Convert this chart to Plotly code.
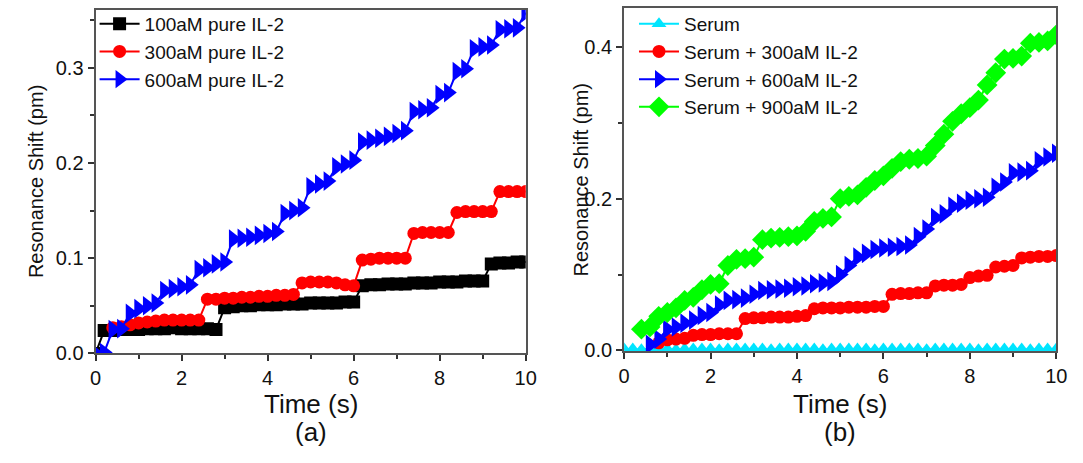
import plotly.graph_objects as go

DT = 0.2

# ---- Panel (a): pure IL-2 ----
a_black_t0 = 0.0
a_black = [0.000,
           0.024, 0.024, 0.025, 0.025, 0.025, 0.026, 0.026, 0.026, 0.027, 0.026, 0.026, 0.026, 0.026, 0.025,
           0.048, 0.049, 0.050, 0.050, 0.051, 0.051, 0.051, 0.052, 0.052, 0.052, 0.053, 0.053, 0.053, 0.053, 0.054, 0.054,
           0.071, 0.072, 0.072, 0.073, 0.073, 0.073, 0.074, 0.074, 0.074, 0.075, 0.075, 0.075, 0.076, 0.076, 0.076,
           0.094, 0.095, 0.095, 0.096, 0.096]
a_red_t0 = 0.4
a_red = [0.027, 0.028, 0.030, 0.032, 0.033, 0.034, 0.035, 0.035, 0.035, 0.035, 0.035,
         0.057, 0.057, 0.058, 0.058, 0.059, 0.059, 0.060, 0.060, 0.061, 0.061, 0.062,
         0.074, 0.075, 0.075, 0.075, 0.074, 0.072, 0.071,
         0.098, 0.099, 0.100, 0.100, 0.100, 0.100,
         0.126, 0.127, 0.127, 0.127, 0.127,
         0.148, 0.149, 0.149, 0.149, 0.149,
         0.170, 0.170, 0.170, 0.170]
a_blue_t0 = 0.0
a_blue = [0.000, 0.001, 0.025, 0.026, 0.042, 0.047, 0.050, 0.053, 0.066, 0.068, 0.070, 0.072,
          0.088, 0.090, 0.094, 0.096, 0.120, 0.121, 0.122, 0.124, 0.126, 0.128, 0.147, 0.150,
          0.153, 0.175, 0.178, 0.181, 0.196, 0.199, 0.203, 0.222, 0.224, 0.226, 0.228, 0.231,
          0.234, 0.254, 0.256, 0.258, 0.272, 0.274, 0.296, 0.299, 0.320, 0.322, 0.324, 0.340,
          0.341, 0.342, 0.358]

# ---- Panel (b): serum ----
b_cyan_t0 = 0.0
b_cyan = [0.002, 0.002, 0.001, 0.002, 0.002, 0.002, 0.001, 0.002, 0.002, 0.002, 0.002,
          0.001, 0.002, 0.002, 0.002, 0.002, 0.002, 0.001, 0.002, 0.002, 0.002, 0.002,
          0.002, 0.001, 0.002, 0.002, 0.002, 0.002, 0.002, 0.001, 0.002, 0.002, 0.002,
          0.002, 0.002, 0.001, 0.002, 0.002, 0.002, 0.002, 0.002, 0.001, 0.002, 0.002,
          0.002, 0.002, 0.002, 0.001, 0.002, 0.002, 0.002]
b_red_t0 = 0.8
b_red = [0.010, 0.014, 0.015, 0.016, 0.020, 0.021, 0.021, 0.022, 0.022, 0.022,
         0.042, 0.043, 0.043, 0.044, 0.044, 0.044, 0.045, 0.046,
         0.055, 0.056, 0.056, 0.056, 0.057, 0.057, 0.057, 0.058, 0.058,
         0.074, 0.075, 0.075, 0.076, 0.076,
         0.085, 0.086, 0.086, 0.087,
         0.096, 0.098, 0.099,
         0.110, 0.111, 0.112,
         0.122, 0.123, 0.124, 0.124, 0.125]
b_blue_t0 = 0.6
b_blue = [0.008, 0.015, 0.028, 0.031, 0.036, 0.040, 0.046, 0.050, 0.060, 0.066, 0.067, 0.069,
          0.074, 0.079, 0.080, 0.081, 0.082, 0.084, 0.085, 0.088, 0.089, 0.091, 0.100, 0.112,
          0.123, 0.128, 0.133, 0.135, 0.136, 0.137, 0.139, 0.150, 0.160, 0.175, 0.180, 0.190,
          0.194, 0.198, 0.200, 0.202, 0.215, 0.222, 0.234, 0.235, 0.237, 0.250, 0.255, 0.260]
b_green_t0 = 0.4
b_green = [0.028, 0.031, 0.045, 0.050, 0.056, 0.066, 0.070, 0.080, 0.087, 0.088, 0.112, 0.120,
           0.121, 0.123, 0.146, 0.148, 0.149, 0.150, 0.151, 0.157, 0.170, 0.174, 0.176, 0.200,
           0.203, 0.205, 0.215, 0.224, 0.230, 0.240, 0.249, 0.252, 0.253, 0.256, 0.270, 0.285,
           0.302, 0.312, 0.320, 0.330, 0.350, 0.366, 0.384, 0.385, 0.388, 0.405, 0.406, 0.408,
           0.416]

a_names = ["100aM pure IL-2", "300aM pure IL-2", "600aM pure IL-2"]
b_names = ["Serum", "Serum + 300aM IL-2", "Serum + 600aM IL-2", "Serum + 900aM IL-2"]
x_ticks = [0, 2, 4, 6, 8, 10]


def times(t0, vals):
    return [round(t0 + DT * i, 3) for i in range(len(vals))]


FONT = "Liberation Sans, Arial, sans-serif"

fig = go.Figure()

a_series = [(a_black_t0, a_black, "#000000", "square", 13),
            (a_red_t0, a_red, "#ff0000", "circle", 13),
            (a_blue_t0, a_blue, "#0000ff", "triangle-right", 17)]
for (t0, vals, col, sym, sz), name in zip(a_series, a_names):
    fig.add_trace(go.Scatter(x=times(t0, vals), y=vals, name=name, mode="lines+markers",
                             line=dict(color=col, width=2),
                             marker=dict(symbol=sym, size=sz, color=col),
                             xaxis="x", yaxis="y", legend="legend"))

b_series = [(b_cyan_t0, b_cyan, "#00e5ff", "triangle-up", 13),
            (b_red_t0, b_red, "#ff0000", "circle", 13),
            (b_blue_t0, b_blue, "#0000ff", "triangle-right", 17),
            (b_green_t0, b_green, "#00ff00", "diamond", 16)]
for (t0, vals, col, sym, sz), name in zip(b_series, b_names):
    fig.add_trace(go.Scatter(x=times(t0, vals), y=vals, name=name, mode="lines+markers",
                             line=dict(color=col, width=2),
                             marker=dict(symbol=sym, size=sz, color=col),
                             xaxis="x2", yaxis="y2", legend="legend2"))

W, H = 1083, 463
axcommon = dict(showline=True, linecolor="#555555", linewidth=2, mirror=True,
                ticks="outside", ticklen=6, tickwidth=1.5, tickcolor="#333333",
                showgrid=False, zeroline=False,
                tickfont=dict(family=FONT, size=20, color="#111111"))

fig.update_layout(
    width=W, height=H,
    margin=dict(l=0, r=0, t=0, b=0),
    paper_bgcolor="white", plot_bgcolor="white",
    font=dict(family=FONT, color="#111111"),
    xaxis=dict(domain=[91 / W, 528 / W], range=[0, 10], tickvals=x_ticks,
               minor=dict(ticks="outside", dtick=1, ticklen=4, tickcolor="#333333"),
               anchor="y", **axcommon),
    yaxis=dict(domain=[1 - 362 / H, 1 - 10 / H], range=[0, 0.361], dtick=0.1, tickformat=".1f",
               minor=dict(ticks="outside", dtick=0.05, ticklen=4, tickcolor="#333333"),
               anchor="x", **axcommon),
    xaxis2=dict(domain=[628 / W, 1067 / W], range=[0, 10], tickvals=x_ticks,
                minor=dict(ticks="outside", dtick=1, ticklen=4, tickcolor="#333333"),
                anchor="y2", **axcommon),
    yaxis2=dict(domain=[1 - 360 / H, 1 - 8 / H], range=[-0.0013, 0.4516], tickvals=[0, 0.2, 0.4],
                tickformat=".1f",
                minor=dict(ticks="outside", tickvals=[0.1, 0.3], ticklen=4, tickcolor="#333333"),
                anchor="x2", **axcommon),
    legend=dict(x=90 / W, y=1 - 5 / H, xanchor="left", yanchor="top",
                bgcolor="rgba(0,0,0,0)", font=dict(family=FONT, size=19),
                tracegroupgap=0, itemwidth=40),
    legend2=dict(x=638 / W, y=1 - 5 / H, xanchor="left", yanchor="top",
                 bgcolor="rgba(0,0,0,0)", font=dict(family=FONT, size=19),
                 tracegroupgap=0, itemwidth=40),
    showlegend=True,
)

ann = []
for cx in [(91 + 528) / 2, (628 + 1067) / 2]:
    ann.append(dict(x=cx / W, y=1 - 414 / H, xref="paper", yref="paper", text="Time (s)",
                    showarrow=False, font=dict(family=FONT, size=26), xanchor="center", yanchor="middle"))
for cx, lab in [((91 + 528) / 2, "(a)"), ((628 + 1067) / 2, "(b)")]:
    ann.append(dict(x=cx / W, y=1 - 443 / H, xref="paper", yref="paper", text=lab,
                    showarrow=False, font=dict(family=FONT, size=26), xanchor="center", yanchor="middle"))
for cx, cy in [(30, 186), (584, 184)]:
    ann.append(dict(x=cx / W, y=1 - cy / H, xref="paper", yref="paper", text="Resonance Shift (pm)",
                    textangle=-90, showarrow=False, font=dict(family=FONT, size=20),
                    xanchor="center", yanchor="middle"))
fig.update_layout(annotations=ann)

fig.write_html(
    "out.html",
    config={"displayModeBar": False},
    post_script=("document.body.style.margin='0';document.body.style.overflow='hidden';"
                 "document.documentElement.style.overflow='hidden';"),
)
